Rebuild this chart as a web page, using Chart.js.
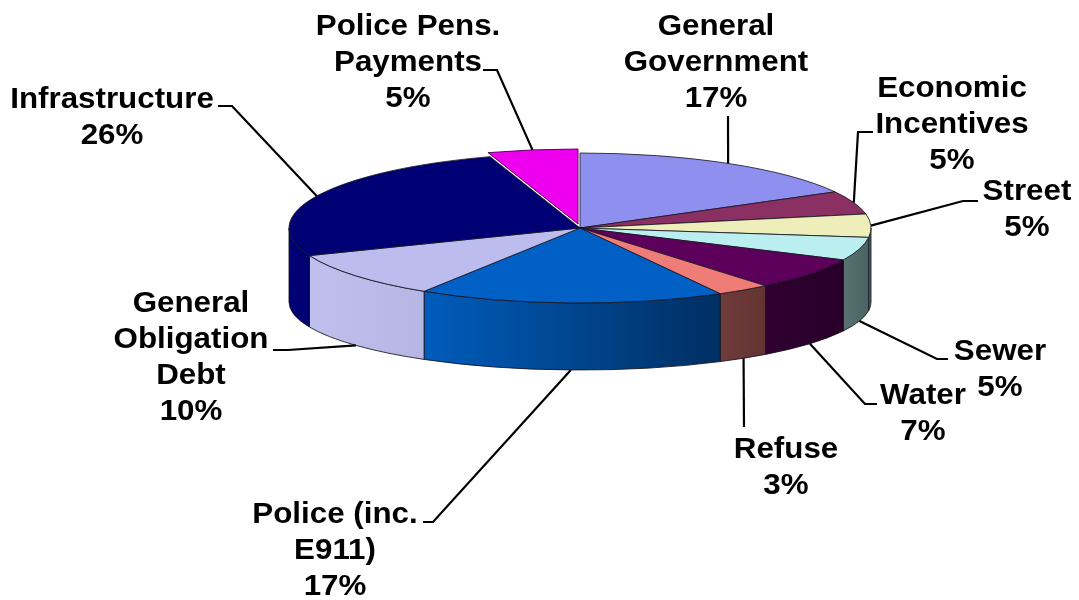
<!DOCTYPE html>
<html lang="en">
<head>
<meta charset="UTF-8">
<title>Budget Allocation</title>
<script src="https://cdn.jsdelivr.net/npm/chart.js"></script>
<style>
  body { margin: 0; background: #fff; }
  canvas { display: block; }
</style>
</head>
<body>
<canvas id="budgetPie" width="1079" height="600"></canvas>
<script>
// slices, clockwise from 12 o'clock
const categories = ['General Government', 'Economic Incentives', 'Street', 'Sewer', 'Water',
  'Refuse', 'Police (inc. E911)', 'General Obligation Debt', 'Infrastructure', 'Police Pens. Payments'];
const shares = [17, 5, 5, 5, 7, 3, 17, 10, 26, 5];
// how each name is broken over lines in its label
const labelLines = [
  ['General', 'Government'], ['Economic', 'Incentives'], ['Street'], ['Sewer'], ['Water'],
  ['Refuse'], ['Police (inc.', 'E911)'], ['General', 'Obligation', 'Debt'], ['Infrastructure'],
  ['Police Pens.', 'Payments']
];

// top face and side wall (left -> right gradient) colours
const topColors = ['#8f8fef', '#8b3062', '#eeeebb', '#bbeeee', '#5c005c',
  '#f07c78', '#0060c6', '#bcbcee', '#000074', '#ee00ee'];
const wallColors = [
  ['#7070c0', '#6868b8'], ['#6a2448', '#62203f'], ['#566e6e', '#506868'], ['#587272', '#4a6262'],
  ['#300032', '#280028'], ['#6e3c3a', '#643432'], ['#005cbc', '#002f62'], ['#c0c0ee', '#b6b6e4'],
  ['#00007a', '#00006e'], ['#b000b0', '#a000a0']
];

// where the pie sits: top ellipse, plus the bottom rim of the wall
const pie = { cx: 580, cy: 228, rx: 291, ry: 75, drop: 74, ryBottom: 68 };
const explodedIndex = 9;
const explodeShift = { x: -2, y: -4 };

// label text centre, first baseline, and leader start / knee points
const labelPos = [
  { x: 716, y: 35, lead: [[728, 116]] },
  { x: 952, y: 97, lead: [[873, 132], [858, 132]] },
  { x: 1027, y: 200, lead: [[978, 201], [963, 201]] },
  { x: 1000, y: 360, lead: [[948, 359], [937, 359]] },
  { x: 923, y: 404, lead: [[877, 404], [865, 404]] },
  { x: 786, y: 458, lead: [[744, 427]] },
  { x: 335, y: 523, lead: [[423, 522], [433, 522]] },
  { x: 191, y: 312, lead: [[273, 350], [288, 350]] },
  { x: 112, y: 108, lead: [[218, 106], [232, 106]] },
  { x: 408, y: 35, lead: [[483, 70], [497, 70]] }
];
const lineHeight = 36;
const textStretch = 1.08;

const pie3d = {
  id: 'pie3d',
  beforeDatasetsDraw(chart) {
    const ctx = chart.ctx;
    const arcs = chart.getDatasetMeta(0).data;

    // visible front walls
    arcs.forEach((arc, i) => {
      const s = Math.max(arc.startAngle, 0);
      const e = Math.min(arc.endAngle, Math.PI);
      if (e <= s) return;
      ctx.save();
      ctx.beginPath();
      ctx.ellipse(pie.cx, pie.cy, pie.rx, pie.ry, 0, s, e);
      ctx.ellipse(pie.cx, pie.cy + pie.drop, pie.rx, pie.ryBottom, 0, e, s, true);
      ctx.closePath();
      const xa = pie.cx + pie.rx * Math.cos(e);
      const xb = pie.cx + pie.rx * Math.cos(s);
      const g = ctx.createLinearGradient(xa, 0, xb + 0.1, 0);
      g.addColorStop(0, wallColors[i][0]);
      g.addColorStop(1, wallColors[i][1]);
      ctx.fillStyle = g;
      ctx.fill();
      ctx.strokeStyle = 'rgba(20,20,30,0.85)';
      ctx.lineWidth = 1;
      ctx.stroke();
      ctx.restore();
    });

    // top faces: the arcs themselves, squashed onto the ellipse
    arcs.forEach((arc, i) => {
      const sh = i === explodedIndex ? explodeShift : { x: 0, y: 0 };
      ctx.save();
      ctx.translate(pie.cx + sh.x, pie.cy + sh.y);
      ctx.scale(pie.rx / arc.outerRadius, pie.ry / arc.outerRadius);
      ctx.translate(-arc.x, -arc.y);
      arc.draw(ctx);
      ctx.restore();

      ctx.save();
      ctx.beginPath();
      ctx.moveTo(pie.cx + sh.x, pie.cy + sh.y);
      ctx.ellipse(pie.cx + sh.x, pie.cy + sh.y, pie.rx, pie.ry, 0, arc.startAngle, arc.endAngle);
      ctx.closePath();
      ctx.strokeStyle = i === explodedIndex ? '#600060' : 'rgba(20,20,30,0.8)';
      ctx.lineWidth = 1;
      ctx.stroke();
      ctx.restore();
    });
    return false;
  },
  afterDraw(chart) {
    const ctx = chart.ctx;
    const arcs = chart.getDatasetMeta(0).data;
    ctx.save();
    arcs.forEach((arc, i) => {
      const mid = (arc.startAngle + arc.endAngle) / 2;
      const sh = i === explodedIndex ? explodeShift : { x: 0, y: 0 };
      let ax, ay;
      if (Math.sin(mid) > 0.1) {
        // front slices: leader meets the bottom rim of the wall
        ax = pie.cx + pie.rx * Math.cos(mid);
        ay = pie.cy + pie.drop + pie.ryBottom * Math.sin(mid);
      } else {
        ax = pie.cx + sh.x + pie.rx * Math.cos(mid);
        ay = pie.cy + sh.y + pie.ry * Math.sin(mid);
      }
      const p = labelPos[i];
      ctx.beginPath();
      ctx.moveTo(p.lead[0][0], p.lead[0][1]);
      for (let k = 1; k < p.lead.length; k++) ctx.lineTo(p.lead[k][0], p.lead[k][1]);
      ctx.lineTo(ax, ay);
      ctx.strokeStyle = '#000';
      ctx.lineWidth = 2.2;
      ctx.stroke();

      const lines = labelLines[i].concat([shares[i] + '%']);
      ctx.fillStyle = '#000';
      ctx.font = 'bold 29px "Liberation Sans", Arial, sans-serif';
      ctx.textAlign = 'center';
      ctx.textBaseline = 'alphabetic';
      lines.forEach((t, k) => {
        ctx.save();
        ctx.translate(p.x, p.y + k * lineHeight);
        ctx.scale(textStretch, 1);
        ctx.fillText(t, 0, 0);
        ctx.restore();
      });
    });
    ctx.restore();
  }
};

new Chart(document.getElementById('budgetPie'), {
  type: 'pie',
  data: {
    labels: categories,
    datasets: [{
      data: shares,
      backgroundColor: topColors,
      borderWidth: 0
    }]
  },
  options: {
    responsive: false,
    animation: false,
    events: [],
    plugins: {
      legend: { display: false },
      tooltip: { enabled: false }
    }
  },
  plugins: [pie3d]
});
</script>
</body>
</html>
